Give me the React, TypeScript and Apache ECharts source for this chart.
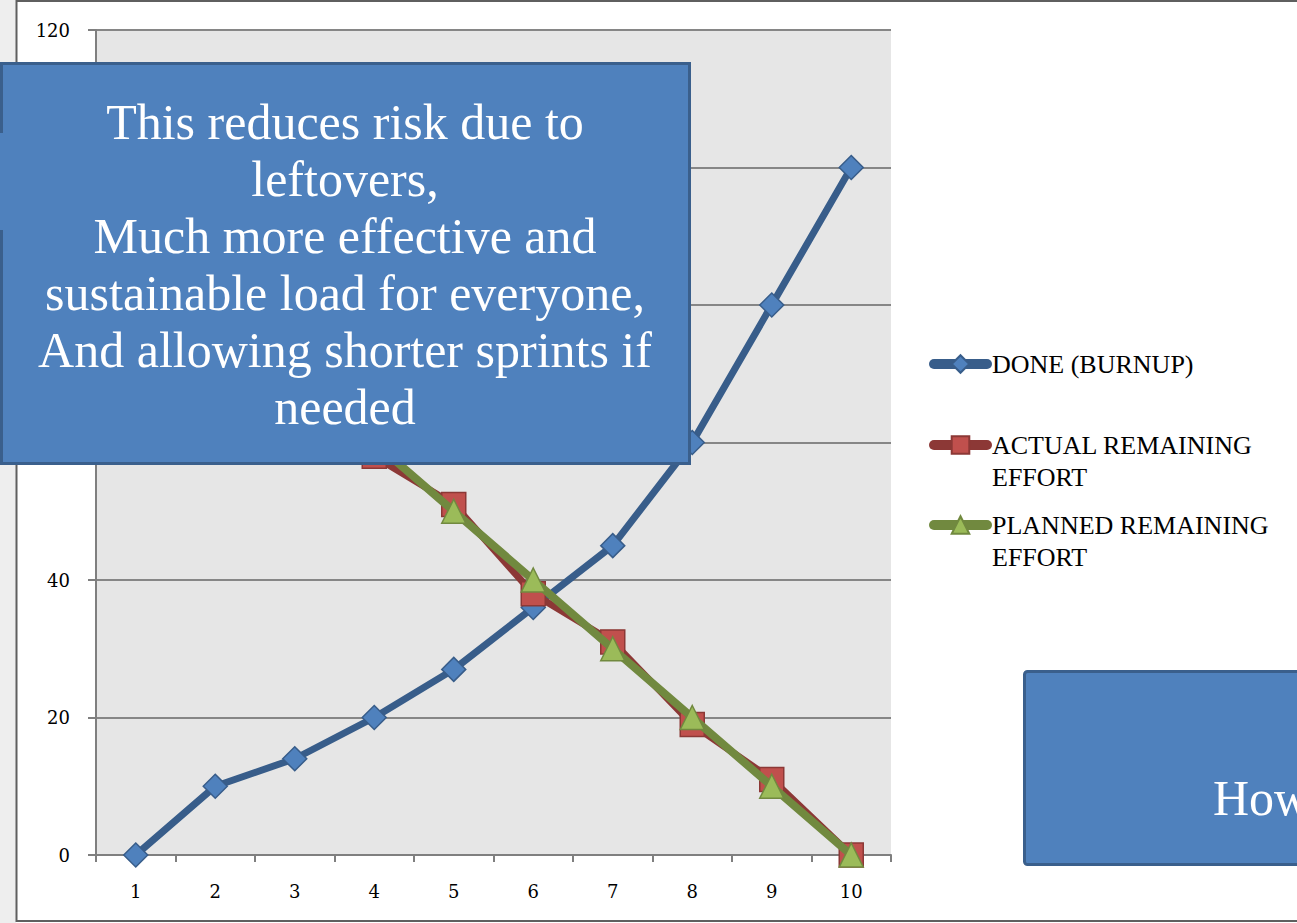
import React, { useEffect, useRef } from "react";
import * as echarts from "echarts";

const categories = ["1", "2", "3", "4", "5", "6", "7", "8", "9", "10"];
const doneBurnup = [0, 10, 14, 20, 27, 36, 45, 60, 80, 100];
const actualRemaining = [90, 80, 69, 58, 51, 38, 31, 19, 11, 0];
const plannedRemaining = [90, 80, 70, 60, 50, 40, 30, 20, 10, 0];
const yMin = 0;
const yMax = 120;
const yInterval = 20;
// tick labels that the callout box hides in the reference
const hiddenYLabels = [60, 80, 100];

const seriesNames = ["DONE (BURNUP)", "ACTUAL REMAINING EFFORT", "PLANNED REMAINING EFFORT"];
const legendLabels = ["DONE (BURNUP)", "\nACTUAL REMAINING\nEFFORT", "\nPLANNED REMAINING\nEFFORT"];

const calloutLines = [
  "This reduces risk due to",
  "leftovers,",
  "Much more effective and",
  "sustainable load for everyone,",
  "And allowing shorter sprints if",
  "needed",
];

export default function App() {
  const ref = useRef<HTMLDivElement>(null);

  useEffect(() => {
    if (!ref.current) return;
    const chart = echarts.init(ref.current, null, { renderer: "svg" });
    const axisFont = "DejaVu Serif";
    const legendFont = "Liberation Serif";
    const gray = "#7f7f7f";

    const legendBase = {
      orient: "vertical",
      left: 929,
      itemWidth: 53,
      itemHeight: 22,
      padding: 0,
      itemGap: 0,
      selectedMode: false,
      lineStyle: { width: 10, cap: "round" },
      textStyle: { fontFamily: legendFont, fontSize: 26, lineHeight: 32, color: "#000" },
    };

    const option: any = {
      animation: false,
      backgroundColor: "#ffffff",
      grid: {
        left: 96,
        top: 30,
        width: 795,
        height: 825,
        show: true,
        backgroundColor: "#e6e6e6",
        borderWidth: 0,
        containLabel: false,
      },
      legend: [
        { ...legendBase, top: 364 - 16, data: [seriesNames[0]], formatter: () => legendLabels[0] },
        { ...legendBase, top: 445 - 48, data: [seriesNames[1]], formatter: () => legendLabels[1] },
        { ...legendBase, top: 525 - 48, data: [seriesNames[2]], formatter: () => legendLabels[2] },
      ],
      xAxis: {
        type: "category",
        data: categories,
        boundaryGap: true,
        axisLine: { show: true, lineStyle: { color: gray, width: 2 } },
        axisTick: { show: true, interval: 0, length: 7, lineStyle: { color: gray, width: 2 } },
        axisLabel: {
          interval: 0,
          margin: 27,
          fontFamily: axisFont,
          fontSize: 18,
          color: "#000",
        },
        splitLine: { show: false },
      },
      yAxis: {
        type: "value",
        min: yMin,
        max: yMax,
        interval: yInterval,
        axisLine: { show: true, lineStyle: { color: gray, width: 2 } },
        axisTick: { show: true, length: 8, lineStyle: { color: gray, width: 2 } },
        axisLabel: {
          margin: 26,
          fontFamily: axisFont,
          fontSize: 18,
          color: "#000",
          formatter: (v: number) => (hiddenYLabels.includes(v) ? "" : String(v)),
        },
        splitLine: { show: true, lineStyle: { color: "#868686", width: 2 } },
      },
      series: [
        {
          name: seriesNames[0],
          type: "line",
          data: doneBurnup,
          symbol: "diamond",
          symbolSize: 24,
          lineStyle: { color: "#385d8a", width: 7, cap: "round", join: "round" },
          itemStyle: { color: "#4f81bd", borderColor: "#385d8a", borderWidth: 1.5 },
          z: 2,
        },
        {
          name: seriesNames[1],
          type: "line",
          data: actualRemaining,
          symbol: "rect",
          symbolSize: 24,
          lineStyle: { color: "#8c3836", width: 7, cap: "round", join: "round" },
          itemStyle: { color: "#c0504d", borderColor: "#8c3836", borderWidth: 1.5 },
          z: 3,
        },
        {
          name: seriesNames[2],
          type: "line",
          data: plannedRemaining,
          symbol: "triangle",
          symbolSize: 24,
          lineStyle: { color: "#71893f", width: 8, cap: "round", join: "round" },
          itemStyle: { color: "#9bbb59", borderColor: "#71893f", borderWidth: 1.5 },
          z: 4,
        },
      ],
      graphic: [
        { type: "rect", z: 100, shape: { x: 0, y: 0, width: 16, height: 923 }, style: { fill: "#eeeeee" } },
        { type: "line", z: 100, shape: { x1: 16.5, y1: 0, x2: 16.5, y2: 922 }, style: { stroke: "#5f5f5f", lineWidth: 2 } },
        { type: "line", z: 100, shape: { x1: 16, y1: 1, x2: 1297, y2: 1 }, style: { stroke: "#5f5f5f", lineWidth: 2 } },
        { type: "line", z: 100, shape: { x1: 16, y1: 921, x2: 1297, y2: 921 }, style: { stroke: "#5f5f5f", lineWidth: 2 } },
        {
          type: "rect",
          z: 101,
          shape: { x: 1.5, y: 63.5, width: 688, height: 400 },
          style: { fill: "#4f81bd", stroke: "#3a5f8c", lineWidth: 3 },
        },
        { type: "rect", z: 102, shape: { x: 0, y: 133, width: 4, height: 97 }, style: { fill: "#4f81bd" } },
        {
          type: "text",
          z: 103,
          x: 345,
          y: 264,
          style: {
            text: calloutLines.join("\n"),
            fill: "#ffffff",
            fontFamily: "Liberation Serif",
            fontSize: 50,
            lineHeight: 57,
            align: "center",
            verticalAlign: "middle",
          },
        },
        {
          type: "rect",
          z: 101,
          shape: { x: 1024.5, y: 671.5, width: 290, height: 193, r: 3 },
          style: { fill: "#4f81bd", stroke: "#3a5f8c", lineWidth: 3 },
        },
        {
          type: "text",
          z: 103,
          x: 1213,
          y: 798,
          style: {
            text: "How",
            fill: "#ffffff",
            fontFamily: "Liberation Serif",
            fontSize: 50,
            align: "left",
            verticalAlign: "middle",
          },
        },
      ],
    };

    chart.setOption(option);
    return () => chart.dispose();
  }, []);

  return (
    <div
      ref={ref}
      style={{ position: "absolute", left: 0, top: 0, width: 1297, height: 923, background: "#fff" }}
    />
  );
}
